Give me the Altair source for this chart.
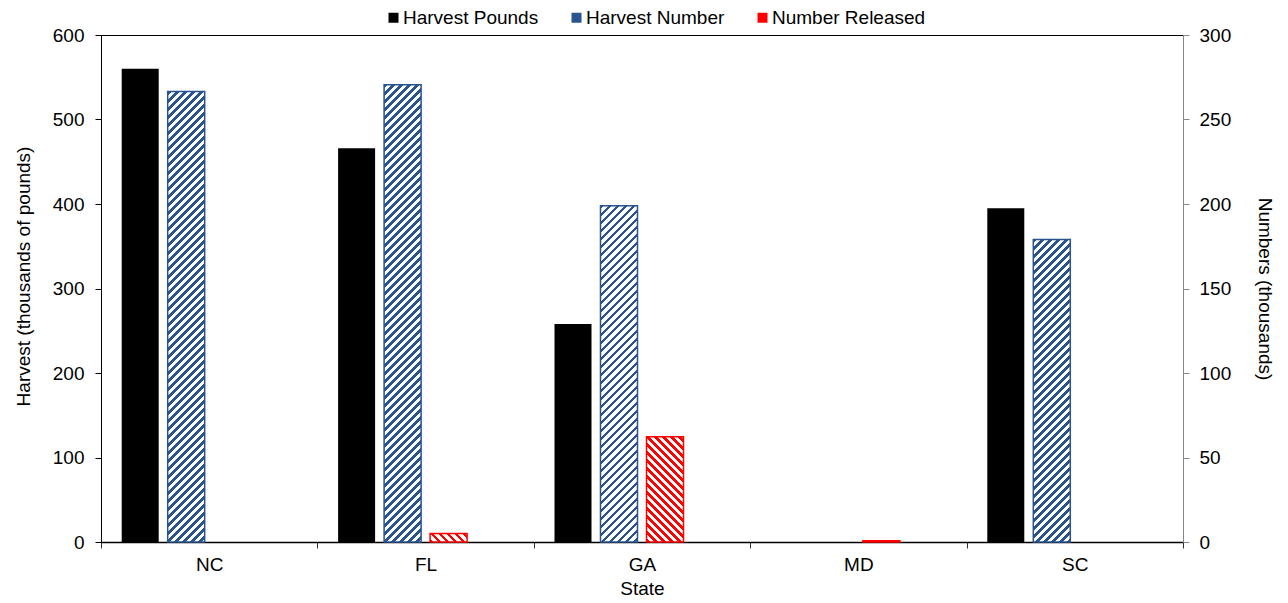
import altair as alt
import pandas as pd

# ---------------- data ----------------
states = ["NC", "FL", "GA", "MD", "SC"]
harvest_pounds = [560, 466, 258, 0, 395]          # thousands of pounds (left axis)
harvest_number = [266.5, 270.5, 199, 0, 179]      # thousands (right axis)
number_released = [0, 5, 62.3, 0.7, 0]            # thousands (right axis)
series = ["Harvest Pounds", "Harvest Number", "Number Released"]

# ---------------- styling ----------------
W, H = 1082, 507
FONT = "Liberation Sans, Arial, sans-serif"
FS = 19
BLUE = "#2A5490"
RED = "#FF0000"
LEFT_MAX, RIGHT_MAX = 600, 300

slot_domain = series + ["_"]
PI, PO = 0.1957, 0.45
band = W / len(states)
step = band / (len(slot_domain) - PI + 2 * PO)
bar_w = step * (1 - PI)


def hatch(w, h, color, up=True, period=8.0, dark=3.8):
    """Striped linear gradient giving 45-degree hatching in a w x h box."""
    L = w + h
    c = L / (w * w + h * h)
    if up:
        x1, y1, x2, y2 = 0, 0, c * w, c * h
    else:
        x1, y1, x2, y2 = 0, 1, c * w, 1 - c * h
    stops = []
    d = 0.0
    while d < L:
        a = d / L
        b = min(d + dark, L) / L
        e = min(d + period, L) / L
        stops += [
            {"offset": a, "color": color},
            {"offset": b, "color": color},
            {"offset": b, "color": "#ffffff"},
            {"offset": e, "color": "#ffffff"},
        ]
        d += period
    return {"gradient": "linear", "x1": x1, "y1": y1, "x2": x2, "y2": y2, "stops": stops}


df = pd.DataFrame(
    {
        "state": states * 3,
        "series": [series[0]] * 5 + [series[1]] * 5 + [series[2]] * 5,
        "value": harvest_pounds + harvest_number + number_released,
    }
)

x_enc = alt.X(
    "state:N",
    scale=alt.Scale(domain=states, paddingInner=0, paddingOuter=0),
    axis=alt.Axis(
        title="State",
        labelAngle=0,
        tickBand="extent",
        tickSize=6,
        tickColor="#333333",
        domainColor="#000000",
        domainWidth=1.5,
        labelPadding=7,
        titlePadding=5,
        labelFontSize=FS,
        titleFontSize=FS,
        labelFont=FONT,
        titleFont=FONT,
        titleFontWeight="normal",
        labelColor="#000000",
        titleColor="#000000",
    ),
)
xoff_enc = alt.XOffset(
    "series:N", scale=alt.Scale(domain=slot_domain, paddingInner=PI, paddingOuter=PO)
)

left_axis = alt.Axis(
    title="Harvest (thousands of pounds)",
    orient="left",
    values=list(range(0, 601, 100)),
    tickSize=6,
    tickColor="#000000",
    domainColor="#000000",
    labelPadding=11,
    titlePadding=19,
    titleY=241,
    grid=False,
    labelFontSize=FS,
    titleFontSize=FS,
    labelFont=FONT,
    titleFont=FONT,
    titleFontWeight="normal",
    labelColor="#000000",
    titleColor="#000000",
)
right_axis = alt.Axis(
    title="Numbers (thousands)",
    orient="right",
    values=list(range(0, 301, 50)),
    tickSize=6,
    tickColor="#888888",
    domainColor="#888888",
    labelPadding=10,
    titlePadding=24,
    grid=False,
    labelFontSize=FS,
    titleFontSize=FS,
    labelFont=FONT,
    titleFont=FONT,
    titleFontWeight="normal",
    labelColor="#000000",
    titleColor="#000000",
)

black = (
    alt.Chart(df)
    .transform_filter(alt.datum.series == series[0])
    .mark_bar(strokeWidth=0)
    .encode(
        x=x_enc,
        xOffset=xoff_enc,
        y=alt.Y("value:Q", scale=alt.Scale(domain=[0, LEFT_MAX], nice=False), axis=left_axis),
        color=alt.Color(
            "series:N",
            scale=alt.Scale(domain=series, range=["#000000", BLUE, RED]),
            legend=alt.Legend(
                title=None,
                orient="none",
                direction="horizontal",
                legendX=283,
                legendY=-27,
                symbolType="square",
                symbolSize=100,
                symbolStrokeWidth=0,
                labelOffset=0,
                columnPadding=28,
                labelFontSize=FS,
                labelFont=FONT,
                labelColor="#000000",
            ),
        ),
    )
)

hatched_layers = []
for s, vals, col, up in [
    (series[1], harvest_number, BLUE, True),
    (series[2], number_released, RED, False),
]:
    for st, v in zip(states, vals):
        if v <= 0:
            continue
        h = v / RIGHT_MAX * H
        fill = hatch(bar_w, h, col, up=up) if h > 4 else col
        layer = (
            alt.Chart(df)
            .transform_filter((alt.datum.series == s) & (alt.datum.state == st))
            .mark_bar(fill=fill, stroke=col, strokeWidth=1.5)
            .encode(
                x=x_enc,
                xOffset=xoff_enc,
                y=alt.Y(
                    "value:Q",
                    scale=alt.Scale(domain=[0, RIGHT_MAX], nice=False),
                    axis=right_axis,
                ),
            )
        )
        hatched_layers.append(layer)

right = alt.layer(*hatched_layers)

chart = (
    alt.layer(black, right)
    .resolve_scale(y="independent")
    .properties(
        width=W,
        height=H,
        autosize=alt.AutoSizeParams(type="none"),
        padding={"left": 93, "top": 27, "right": 97, "bottom": 57},
        background="#ffffff",
    )
    .configure_view(stroke="#000000", strokeWidth=1)
)

chart.save("out.html", embed_options={"renderer": "svg", "actions": False})
